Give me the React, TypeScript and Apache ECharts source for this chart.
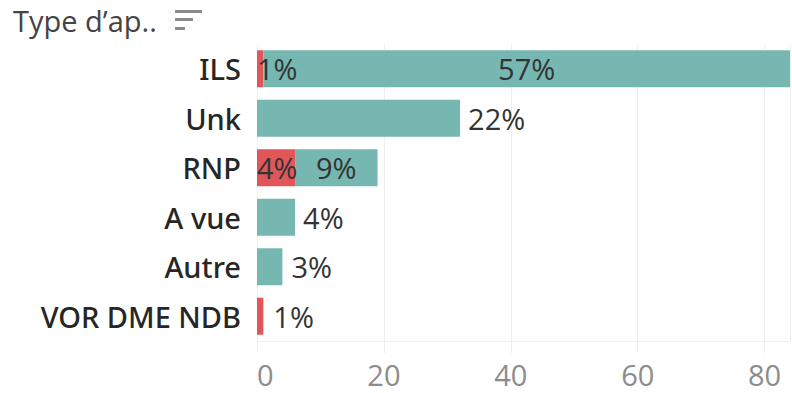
import React, { useEffect, useRef } from "react";
import * as echarts from "echarts";

const categories = ["ILS", "Unk", "RNP", "A vue", "Autre", "VOR DME NDB"];
const redValues: (number | null)[] = [1, null, 6, null, null, 1];
const tealValues: (number | null)[] = [83, 32, 13, 6, 4, null];
const redLabelPos = ["insideLeft", "right", "insideLeft", "right", "right", "right"];
const tealLabelPos = ["inside", "right", "inside", "right", "right", "right"];
const xTicks = [0, 20, 40, 60, 80];
const title = "Type d\u2019ap..";

const RED = "#e15759";
const TEAL = "#76b7b2";
const FONT = "'Open Sans', 'Noto Sans', sans-serif";
const CAT_FONT = "'Noto Sans', 'Open Sans', sans-serif";

export default function App() {
  const ref = useRef<HTMLDivElement>(null);
  useEffect(() => {
    if (!ref.current) return;
    const chart = echarts.init(ref.current, null, { renderer: "svg" });
    const total = [...redValues, ...tealValues].reduce<number>((s, v) => s + (v || 0), 0);
    const pct = (p: any) => (p.value == null ? "" : Math.round((p.value / total) * 100) + "%");
    const mkData = (vals: (number | null)[], pos: string[], dists: number[]) =>
      vals.map((v, i) => ({
        value: v,
        label: { position: pos[i], distance: dists[i] },
      }));
    chart.setOption({
      animation: false,
      textStyle: { fontFamily: FONT },
      grid: { left: 257, right: 2, top: 44, bottom: 52, containLabel: false },
      xAxis: {
        type: "value",
        min: 0,
        max: 84,
        interval: 20,
        axisLine: { show: true, lineStyle: { color: "#f0f0f0" } },
        axisTick: { show: true, length: 12, lineStyle: { color: "#eeeeee" } },
        splitLine: { show: true, lineStyle: { color: "#eeeeee" } },
        axisLabel: {
          color: "#8c8c8c",
          fontSize: 29,
          fontFamily: FONT,
          margin: 19,
          showMaxLabel: false,
          alignMinLabel: "left",
          formatter: (v: number) => (xTicks.includes(v) ? String(v) : ""),
        },
      },
      yAxis: {
        type: "category",
        data: categories,
        inverse: true,
        axisLine: { show: false },
        axisTick: { show: false },
        axisLabel: {
          color: "#262626",
          fontSize: 29,
          fontWeight: 500,
          fontFamily: CAT_FONT,
          margin: 16,
        },
      },
      series: [
        {
          name: "Rouge",
          type: "bar",
          stack: "t",
          barWidth: 37,
          itemStyle: { color: RED },
          label: { show: true, formatter: pct, color: "#333", fontSize: 29, fontFamily: FONT },
          data: mkData(redValues, redLabelPos, [0, 10, 0, 10, 10, 10]),
        },
        {
          name: "Sarcelle",
          type: "bar",
          stack: "t",
          barWidth: 37,
          itemStyle: { color: TEAL },
          label: { show: true, formatter: pct, color: "#333", fontSize: 29, fontFamily: FONT },
          data: mkData(tealValues, tealLabelPos, [5, 8, 5, 8, 9, 8]),
        },
      ],
      graphic: [
        {
          type: "text",
          left: 13,
          top: 6,
          style: { text: title, fontSize: 29, fill: "#444", fontFamily: FONT },
        },
        { type: "rect", shape: { x: 175, y: 10, width: 27, height: 3 }, style: { fill: "#8a8a8a" } },
        { type: "rect", shape: { x: 175, y: 18, width: 18, height: 3 }, style: { fill: "#8a8a8a" } },
        { type: "rect", shape: { x: 175, y: 27, width: 10, height: 3 }, style: { fill: "#8a8a8a" } },
      ],
    });
    return () => chart.dispose();
  }, []);
  return (
    <div
      ref={ref}
      style={{ position: "fixed", left: 0, top: 0, width: 792, height: 393, background: "#fff" }}
    />
  );
}
